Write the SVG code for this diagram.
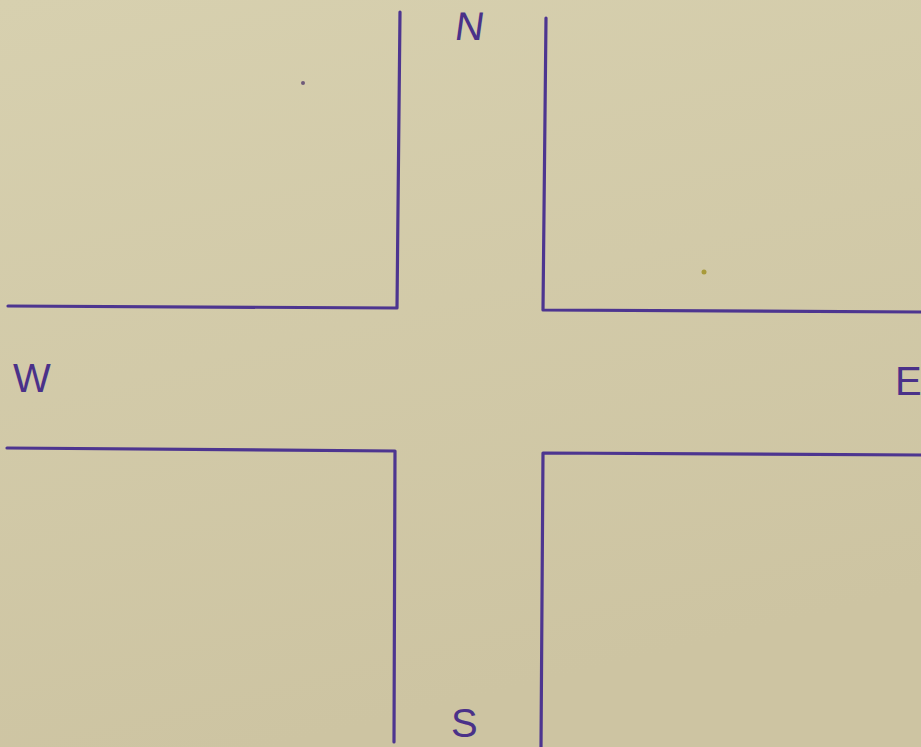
<svg xmlns="http://www.w3.org/2000/svg" width="921" height="747" viewBox="0 0 921 747">
  <defs>
    <linearGradient id="paper" x1="0" y1="0" x2="0.3" y2="1">
      <stop offset="0" stop-color="#d7d0af"/>
      <stop offset="1" stop-color="#cdc4a2"/>
    </linearGradient>
  </defs>
  <style>
    .wall { fill: none; stroke: #4d3590; stroke-width: 3.2; stroke-linecap: round; stroke-linejoin: round; }
    .lbl { font-family: "Liberation Sans", Arial, sans-serif; fill: #4a3189; font-size: 40px; }
  </style>
  <rect x="0" y="0" width="921" height="747" fill="url(#paper)"/>
  <circle cx="303" cy="83" r="2" fill="#6e5a7a"/>
  <circle cx="704" cy="272" r="2.5" fill="#a89a3a"/>
  <g id="block-nw"><polyline class="wall" points="400,12 397,308 8,306"/></g>
  <g id="block-ne"><polyline class="wall" points="546,18 543,310 921,312"/></g>
  <g id="block-sw"><polyline class="wall" points="7,448 395,451 394,742"/></g>
  <g id="block-se"><polyline class="wall" points="921,455 543,453 541,747"/></g>
  <g id="labels">
    <text class="lbl" x="454" y="40" font-size="45" transform="skewX(-8) translate(5,0)">N</text>
    <text class="lbl" x="13" y="392">W</text>
    <text class="lbl" x="895" y="395" font-size="38">E</text>
    <text class="lbl" x="451" y="737" font-size="38">S</text>
  </g>
</svg>
